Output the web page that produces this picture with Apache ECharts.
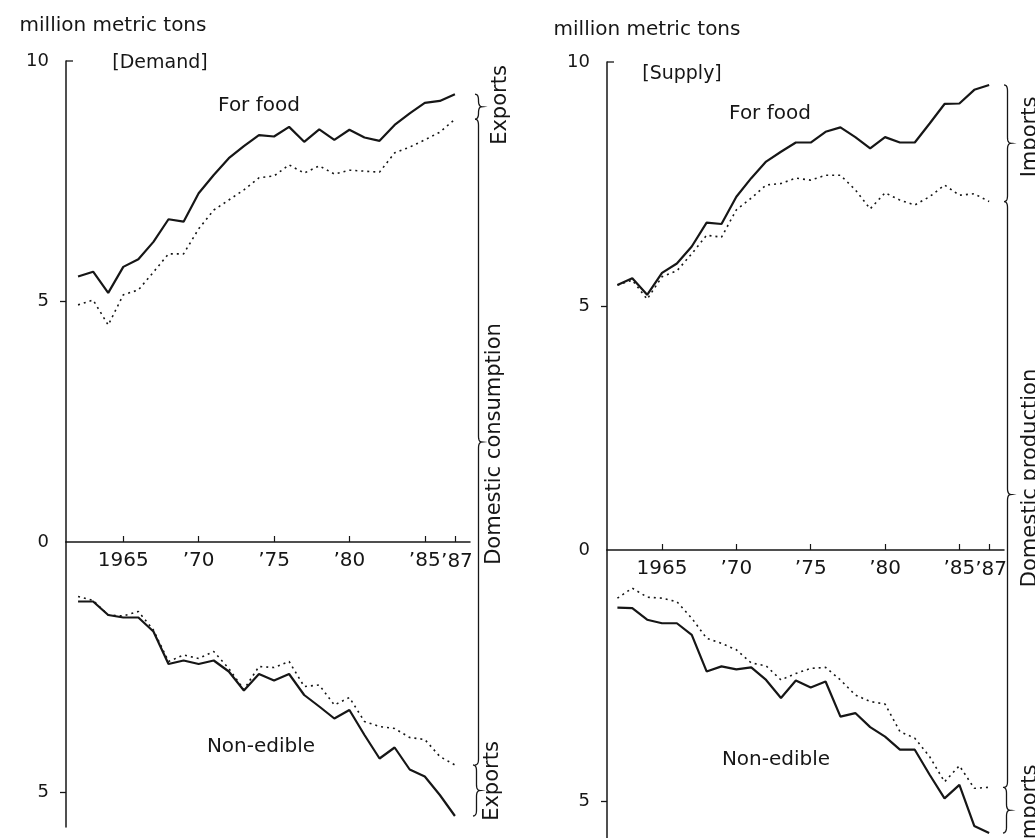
<!DOCTYPE html>
<html><head><meta charset="utf-8">
<script src="https://cdn.jsdelivr.net/npm/echarts@6/dist/echarts.min.js"></script>
<style>html,body{margin:0;padding:0;background:#fff}#c{width:1035px;height:838px}</style>
</head><body><div id="c"></div><script>
// ---- data (million metric tons) ----
const years = [1962,1963,1964,1965,1966,1967,1968,1969,1970,1971,1972,1973,1974,1975,1976,1977,1978,1979,1980,1981,1982,1983,1984,1985,1986,1987];
// Demand: solid = total demand, dotted = domestic consumption
const demandFoodTotal      = [5.52,5.62,5.18,5.72,5.88,6.24,6.71,6.66,7.25,7.63,7.98,8.23,8.46,8.43,8.63,8.32,8.58,8.36,8.57,8.41,8.34,8.67,8.91,9.13,9.17,9.31];
const demandFoodDomestic   = [4.93,5.03,4.51,5.14,5.24,5.61,5.99,5.99,6.51,6.90,7.11,7.32,7.57,7.61,7.84,7.67,7.82,7.65,7.73,7.71,7.69,8.09,8.21,8.36,8.52,8.79];
const demandNonEdTotal     = [1.19,1.19,1.46,1.51,1.51,1.79,2.44,2.37,2.44,2.37,2.59,2.97,2.64,2.77,2.64,3.06,3.29,3.53,3.36,3.86,4.33,4.11,4.55,4.69,5.06,5.48];
const demandNonEdDomestic  = [1.09,1.17,1.46,1.48,1.39,1.76,2.39,2.26,2.33,2.19,2.53,2.95,2.49,2.51,2.39,2.89,2.86,3.26,3.11,3.59,3.69,3.73,3.91,3.95,4.29,4.46];
// Supply: solid = total supply, dotted = domestic production
const supplyFoodTotal      = [5.43,5.57,5.23,5.68,5.87,6.22,6.71,6.68,7.24,7.62,7.96,8.16,8.35,8.35,8.57,8.66,8.46,8.23,8.46,8.35,8.35,8.74,9.14,9.15,9.43,9.53];
const supplyFoodDomestic   = [5.43,5.53,5.14,5.60,5.72,6.07,6.45,6.41,6.97,7.21,7.48,7.51,7.62,7.58,7.68,7.68,7.38,6.99,7.32,7.17,7.07,7.24,7.48,7.27,7.30,7.14];
const supplyNonEdTotal     = [1.15,1.16,1.39,1.46,1.46,1.69,2.42,2.32,2.38,2.34,2.59,2.95,2.60,2.74,2.62,3.32,3.25,3.53,3.72,3.98,3.98,4.48,4.95,4.68,5.50,5.64];
const supplyNonEdDomestic  = [0.96,0.76,0.94,0.96,1.03,1.36,1.76,1.86,1.99,2.25,2.31,2.59,2.46,2.36,2.34,2.59,2.89,3.02,3.07,3.62,3.75,4.12,4.62,4.30,4.75,4.73];
// tick labels
const xTickYears = [1965,1970,1975,1980,1985,1987];
const upperTicks = [0,5,10];
const lowerTicks = [5];
const unitLabel = 'million metric tons';

// ---- styling ----
const FONT = 'DejaVu Sans';
const INK = '#161616';
const pairs = (xs, ys) => xs.map((x, i) => [x, ys[i]]);
const yearLabel = v => (v === 1965 ? '1965' : '\u2019' + String(v).slice(2));
const lastTickYear = xTickYears[xTickYears.length - 1];
const axisLabelYears = xTickYears.slice(0, -1); // the crowded last label is placed separately below

const grids = [
  {left: 66, top: 61, width: 404, height: 481},   // demand, for food
  {left: 66, top: 542, width: 404, height: 285},  // demand, non-edible
  {left: 607, top: 62, width: 397, height: 488},  // supply, for food
  {left: 607, top: 550, width: 397, height: 289}  // supply, non-edible
].map(g => Object.assign(g, {containLabel: false, outerBoundsMode: 'none'}));

function xAx(gi, min, max, show) {
  return {
    type: 'value', gridIndex: gi, min, max, show,
    axisLine: {show: true, onZero: false, lineStyle: {color: INK, width: 1.5}},
    axisTick: {show: true, inside: true, length: 6, customValues: xTickYears, lineStyle: {color: INK, width: 1.2}},
    axisLabel: {show: true, customValues: axisLabelYears, formatter: yearLabel, margin: 9, hideOverlap: false,
                color: INK, fontFamily: FONT, fontSize: 20},
    splitLine: {show: false}
  };
}
function yAx(gi, max, inverse, ticks) {
  return {
    type: 'value', gridIndex: gi, min: 0, max, inverse,
    axisLine: {show: true, onZero: false, lineStyle: {color: INK, width: 1.5}},
    axisTick: {show: true, inside: false, length: 6, customValues: [5], lineStyle: {color: INK, width: 1.3}},
    axisLabel: {show: true, customValues: ticks, margin: 17, hideOverlap: false, color: INK, fontFamily: FONT, fontSize: 18},
    splitLine: {show: false}
  };
}
function ln(gi, ys, dotted) {
  return {
    type: 'line', xAxisIndex: gi, yAxisIndex: gi, data: pairs(years, ys),
    showSymbol: false, silent: true, animation: false,
    lineStyle: dotted ? {color: INK, width: 1.6, type: [2, 4]} : {color: INK, width: 2.2}
  };
}

const chart = echarts.init(document.getElementById('c'), null, {renderer: 'canvas'});
chart.setOption({
  backgroundColor: '#ffffff',
  animation: false,
  grid: grids,
  xAxis: [xAx(0, 1961.2, 1988, true), xAx(1, 1961.2, 1988, false), xAx(2, 1961.3, 1988, true), xAx(3, 1961.3, 1988, false)],
  yAxis: [yAx(0, 10, false, upperTicks), yAx(1, 5.7, true, lowerTicks), yAx(2, 10, false, upperTicks), yAx(3, 5.76, true, lowerTicks)],
  series: [
    ln(0, demandFoodTotal, false), ln(0, demandFoodDomestic, true),
    ln(1, demandNonEdTotal, false), ln(1, demandNonEdDomestic, true),
    ln(2, supplyFoodTotal, false), ln(2, supplyFoodDomestic, true),
    ln(3, supplyNonEdTotal, false), ln(3, supplyNonEdDomestic, true)
  ]
});

// ---- annotations positioned from the data ----
const last = years.length - 1;
const px = (gi, v) => chart.convertToPixel({gridIndex: gi}, [years[last], v]);

function bracePoints(x, y1, y2, w) {
  const m = (y1 + y2) / 2, h = w / 2;
  const r = Math.min(6, Math.abs(y2 - y1) / 4);
  const pts = [];
  const quad = (p0, p1, p2) => { for (let t = 0; t <= 1.0001; t += 0.125) {
    const a = (1 - t) * (1 - t), b = 2 * (1 - t) * t, c = t * t;
    pts.push([a * p0[0] + b * p1[0] + c * p2[0], a * p0[1] + b * p1[1] + c * p2[1]]); } };
  quad([x, y1], [x + h, y1], [x + h, y1 + r]);
  pts.push([x + h, m - r]);
  quad([x + h, m - r], [x + h, m], [x + w, m]);
  quad([x + w, m], [x + h, m], [x + h, m + r]);
  pts.push([x + h, y2 - r]);
  quad([x + h, y2 - r], [x + h, y2], [x, y2]);
  return pts;
}
function brace(x, y1, y2, w) {
  return {type: 'polyline', shape: {points: bracePoints(x, y1, y2, w)}, silent: true,
          style: {fill: null, stroke: INK, lineWidth: 1.3}};
}
function txt(x, y, s, size, rot) {
  return {type: 'text', x, y, rotation: rot || 0, silent: true,
          style: {text: s, fill: INK, fontFamily: FONT, fontSize: size, align: 'center', verticalAlign: 'middle',
                  textAlign: 'center', textVerticalAlign: 'middle'}};
}
function topTick(gi) {
  const p = chart.convertToPixel({gridIndex: gi}, [chart.getOption().xAxis[gi].min, 10]);
  return {type: 'line', shape: {x1: p[0], y1: p[1], x2: p[0] + 7, y2: p[1]}, silent: true,
          style: {stroke: INK, lineWidth: 1.3}};
}
// the '87 end label, placed through the x axis scale
function endLabel(gi) {
  const p = chart.convertToPixel({gridIndex: gi}, [lastTickYear, 0]);
  return txt(p[0] + 2, p[1] + 20, yearLabel(lastTickYear), 20);
}

const L = {
  aTop: px(0, demandFoodTotal[last])[1], aBot: px(0, demandFoodDomestic[last])[1],
  cTop: px(1, demandNonEdDomestic[last])[1], cBot: px(1, demandNonEdTotal[last])[1]
};
const R = {
  aTop: px(2, supplyFoodTotal[last])[1], aBot: px(2, supplyFoodDomestic[last])[1],
  cTop: px(3, supplyNonEdDomestic[last])[1], cBot: px(3, supplyNonEdTotal[last])[1]
};
const V = Math.PI / 2;
chart.setOption({
  graphic: [
    txt(113, 26, unitLabel, 20), txt(647, 30, unitLabel, 20),
    txt(160, 63, '[Demand]', 19), txt(682, 74, '[Supply]', 19),
    txt(259, 106, 'For food', 20), txt(770, 114, 'For food', 20),
    txt(261, 747, 'Non-edible', 20), txt(776, 760, 'Non-edible', 20),
    topTick(0), topTick(2),
    endLabel(0), endLabel(2),
    brace(475, L.aTop, L.aBot, 7), brace(475, L.aBot, L.cTop, 7), brace(473, L.cTop, L.cBot, 7),
    brace(1004, R.aTop, R.aBot, 7), brace(1004, R.aBot, R.cTop, 7), brace(1003, R.cTop, R.cBot, 7),
    txt(501, 105, 'Exports', 21, V), txt(495, 444, 'Domestic consumption', 21, V), txt(493, 781, 'Exports', 21, V),
    txt(1031, 137, 'Imports', 21, V), txt(1031, 478, 'Domestic production', 21, V), txt(1031, 805, 'Imports', 21, V)
  ]
});
</script></body></html>
